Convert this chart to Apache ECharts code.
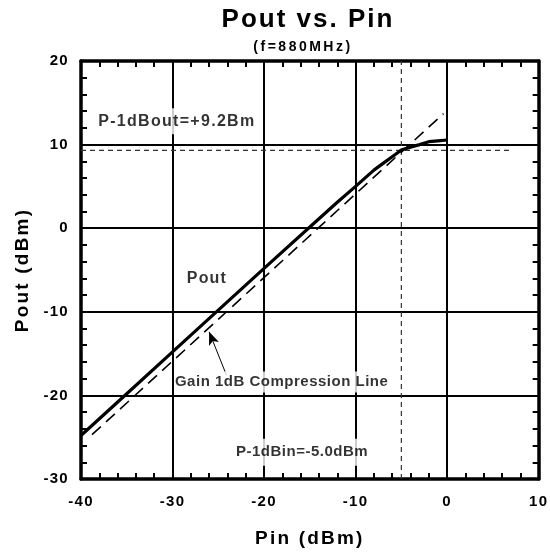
<!DOCTYPE html>
<html>
<head>
<meta charset="utf-8">
<script src="https://cdn.jsdelivr.net/npm/echarts@6/dist/echarts.min.js"></script>
<style>
html,body{margin:0;padding:0;background:#fff;}
#c{width:550px;height:556px;}
</style>
</head>
<body>
<div id="c"></div>
<script>
// ---- data ----
const pinValues  = [-40, -35, -30, -25, -20, -15, -12, -10, -8, -7, -6, -5, -4, -3, -2, -1, 0];
const poutValues = [-24.8, -19.8, -14.8, -9.8, -4.8, 0.15, 3.1, 5.0, 6.95, 7.75, 8.55, 9.35, 9.7, 10.0, 10.35, 10.45, 10.55];

const gainPin  = [-38.8, -0.4];
const gainPout = [-24.7, 13.7];

const refVPin  = [-5, -5];
const refVPout = [-30, 20];
const refHPin  = [-40, 7];
const refHPout = [9.3, 9.3];

const annoTexts = ['P-1dBout=+9.2Bm', 'Pout', 'Gain 1dB Compression Line', 'P-1dBin=-5.0dBm'];
const annoPin   = [-29.53, -26.24, -18.08, -15.85];
const annoPout  = [12.78, -6.0, -18.4, -26.79];

const arrowFrom = [-24.1, -17.6];
const arrowTo   = [-26.0, -12.4];

const xMin = -40, xMax = 10, xStep = 10;
const yMin = -30, yMax = 20, yStep = 10;

const titleText = 'Pout vs. Pin';
const subTitleText = '(f=880MHz)';
const xName = 'Pin (dBm)';
const yName = 'Pout (dBm)';

// ---- styles ----
const FONT = "'Liberation Sans', Arial, Helvetica, sans-serif";
const annoStyles = [
  {fontSize: 16, lineHeight: 18, padding: [4, 4], backgroundColor: '#fff'},
  {fontSize: 16, lineHeight: 18, padding: [0, 0], backgroundColor: 'transparent'},
  {fontSize: 15, lineHeight: 17, padding: [2, 3], backgroundColor: '#fff'},
  {fontSize: 15, lineHeight: 17, padding: [5, 4], backgroundColor: '#fff'}
];
const spacingByText = {};
spacingByText[titleText] = 2;
spacingByText[subTitleText] = 2.5;
spacingByText[xName] = 2.2;
spacingByText[yName] = 2.2;
spacingByText[annoTexts[0]] = 1.3;
spacingByText[annoTexts[1]] = 1.2;
spacingByText[annoTexts[2]] = 0.5;
spacingByText[annoTexts[3]] = 0.5;
const defaultSpacing = 1.3;

// letter spacing for canvas text (visual tracking of the reference)
(function () {
  const proto = CanvasRenderingContext2D.prototype;
  const origFill = proto.fillText;
  const origStroke = proto.strokeText;
  function setSp(ctx, t) {
    const s = Object.prototype.hasOwnProperty.call(spacingByText, t) ? spacingByText[t] : defaultSpacing;
    try { ctx.letterSpacing = s + 'px'; } catch (e) {}
  }
  proto.fillText = function (t, x, y, w) {
    setSp(this, String(t));
    const r = w === undefined ? origFill.call(this, t, x, y) : origFill.call(this, t, x, y, w);
    try { this.letterSpacing = '0px'; } catch (e) {}
    return r;
  };
  proto.strokeText = function (t, x, y, w) {
    setSp(this, String(t));
    const r = w === undefined ? origStroke.call(this, t, x, y) : origStroke.call(this, t, x, y, w);
    try { this.letterSpacing = '0px'; } catch (e) {}
    return r;
  };
})();

const zip = (a, b) => a.map((v, i) => [v, b[i]]);

const chart = echarts.init(document.getElementById('c'), null, {renderer: 'canvas'});

function axisCommon() {
  return {
    type: 'value',
    axisLine: {show: true, onZero: false, lineStyle: {color: '#000', width: 3.5}},
    axisTick: {show: true, inside: true, length: 6, lineStyle: {color: '#000', width: 2}},
    minorTick: {show: true, splitNumber: 5, length: 6, lineStyle: {color: '#000', width: 2}}
  };
}

const option = {
  animation: false,
  backgroundColor: '#fff',
  textStyle: {fontFamily: FONT, fontWeight: 'bold', color: '#000'},
  title: [
    {text: titleText, left: 308, top: 7, textAlign: 'center', padding: 0,
     textStyle: {fontFamily: FONT, fontWeight: 'bold', fontSize: 26, color: '#000'}},
    {text: subTitleText, left: 303, top: 40, textAlign: 'center', padding: 0,
     textStyle: {fontFamily: FONT, fontWeight: 'bold', fontSize: 14, color: '#000'}}
  ],
  grid: {left: 81, right: 11, top: 61, bottom: 77, containLabel: false},
  xAxis: [
    Object.assign({}, axisCommon(), {
      position: 'bottom', min: xMin, max: xMax, interval: xStep,
      name: xName, nameLocation: 'middle', nameGap: 50,
      nameTextStyle: {fontFamily: FONT, fontWeight: 'bold', fontSize: 19, color: '#000'},
      axisLabel: {show: true, margin: 15, fontFamily: FONT, fontWeight: 'bold', fontSize: 15, color: '#000'},
      splitLine: {show: true, lineStyle: {color: '#000', width: 2}}
    }),
    Object.assign({}, axisCommon(), {
      position: 'top', min: xMin, max: xMax, interval: xStep,
      axisLabel: {show: false}, splitLine: {show: false}
    })
  ],
  yAxis: [
    Object.assign({}, axisCommon(), {
      position: 'left', min: yMin, max: yMax, interval: yStep,
      name: yName, nameLocation: 'middle', nameGap: 49, nameRotate: 90,
      nameTextStyle: {fontFamily: FONT, fontWeight: 'bold', fontSize: 19, color: '#000'},
      axisLabel: {show: true, margin: 12, fontFamily: FONT, fontWeight: 'bold', fontSize: 15, color: '#000'},
      splitLine: {show: true, lineStyle: {color: '#000', width: 2}}
    }),
    Object.assign({}, axisCommon(), {
      position: 'right', min: yMin, max: yMax, interval: yStep,
      axisLabel: {show: false}, splitLine: {show: false}
    })
  ],
  series: [
    {
      name: 'refV', type: 'line', data: zip(refVPin, refVPout), symbol: 'none', silent: true,
      lineStyle: {color: '#333', width: 1.2, type: [5, 4]}, z: 3
    },
    {
      name: 'refH', type: 'line', data: zip(refHPin, refHPout), symbol: 'none', silent: true,
      lineStyle: {color: '#333', width: 1.2, type: [5, 4]}, z: 3
    },
    {
      name: 'Gain 1dB Compression Line', type: 'line', data: zip(gainPin, gainPout), symbol: 'none', silent: true,
      lineStyle: {color: '#000', width: 1.6, type: [12, 7]}, z: 4,
      markLine: {
        silent: true, animation: false,
        symbol: ['none', 'arrow'], symbolSize: [8, 13],
        label: {show: false},
        lineStyle: {type: 'solid', color: '#000', width: 1},
        emphasis: {disabled: true},
        data: [[{coord: arrowFrom}, {coord: arrowTo}]]
      }
    },
    {
      name: 'Pout', type: 'line', data: zip(pinValues, poutValues), symbol: 'none', silent: true,
      lineStyle: {color: '#000', width: 3.2}, z: 5
    },
    {
      name: 'annotations', type: 'scatter', symbolSize: 0, silent: true, z: 6,
      data: annoTexts.map((t, i) => ({
        value: [annoPin[i], annoPout[i]], name: t,
        label: Object.assign({
          show: true, position: 'inside', formatter: '{b}', align: 'center', verticalAlign: 'middle',
          fontFamily: FONT, fontWeight: 'bold', color: '#000'
        }, annoStyles[i])
      }))
    }
  ]
};

chart.setOption(option);
</script>
</body>
</html>
